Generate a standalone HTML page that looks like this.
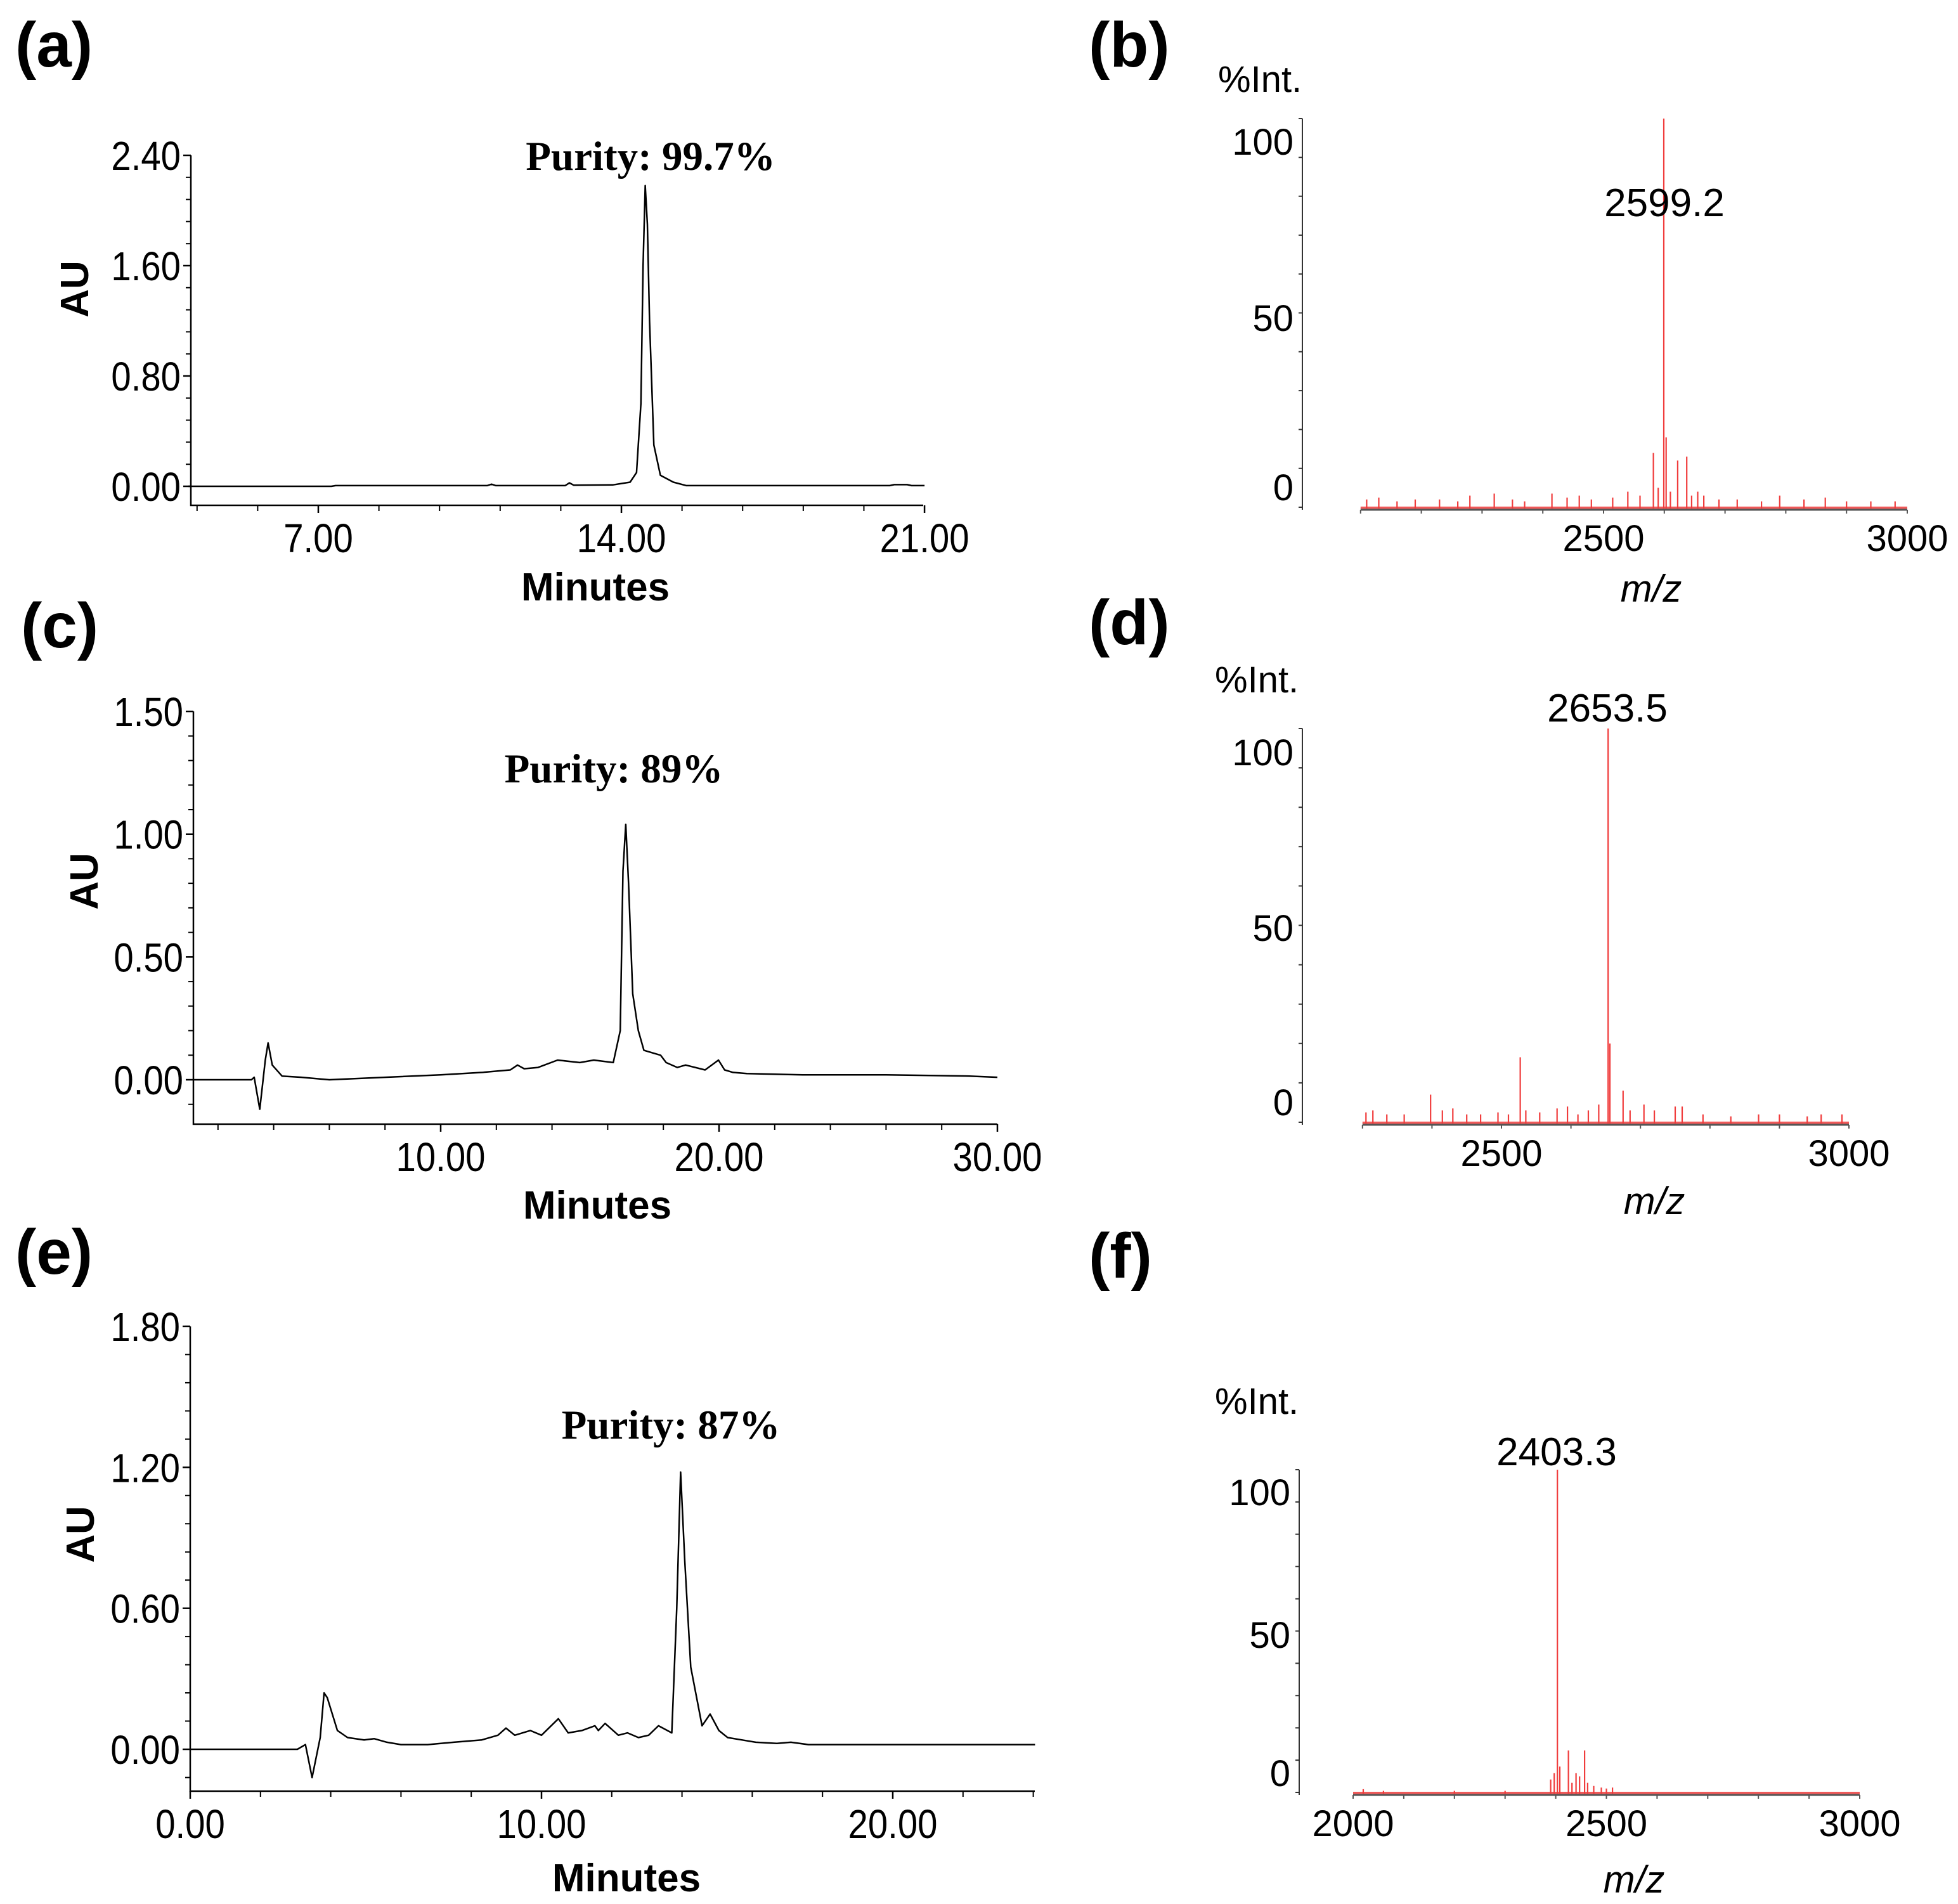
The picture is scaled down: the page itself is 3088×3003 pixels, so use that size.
<!DOCTYPE html>
<html><head><meta charset="utf-8"><style>
html,body{margin:0;padding:0;background:#fff;}
svg{display:block;}
text{font-family:"Liberation Sans",sans-serif;fill:#000;}
.serif{font-family:"Liberation Serif",serif;font-weight:bold;}
</style></head><body>
<svg id="fig" width="3088" height="3003" viewBox="0 0 3088 3003" xmlns="http://www.w3.org/2000/svg"></svg>
<script>
// ---------- Chromatogram data (minutes, AU) ----------
const chromA_t = [4.0,7.3,7.4,10.9,11.0,11.1,12.7,12.8,12.9,13.8,14.2,14.35,14.45,14.5,14.55,14.6,14.65,14.75,14.9,15.2,15.5,20.2,20.3,20.6,20.7,21.0];
const chromA_v = [0,0,0.005,0.005,0.015,0.005,0.005,0.025,0.008,0.01,0.03,0.1,0.6,1.6,2.18,1.9,1.2,0.3,0.08,0.03,0.005,0.005,0.012,0.012,0.005,0.005];
const chromC_t = [1.1,3.2,3.3,3.5,3.7,3.8,3.95,4.3,5.0,6.0,8.0,10.0,11.5,12.5,12.76,13.0,13.5,14.2,15.0,15.5,16.2,16.45,16.55,16.65,16.75,16.9,17.1,17.3,17.6,17.9,18.1,18.5,18.8,19.5,19.98,20.2,20.5,21.0,23.0,26.0,29.0,30.0];
const chromC_v = [0,0,0.01,-0.12,0.08,0.15,0.06,0.015,0.01,0.0,0.01,0.02,0.03,0.04,0.06,0.045,0.05,0.08,0.07,0.08,0.07,0.2,0.85,1.04,0.8,0.35,0.2,0.12,0.11,0.1,0.07,0.05,0.06,0.04,0.08,0.04,0.03,0.025,0.02,0.02,0.015,0.01];
const chromE_t = [0.0,3.05,3.28,3.47,3.7,3.81,3.9,4.19,4.48,4.95,5.24,5.6,6.0,6.76,7.5,8.3,8.76,8.99,9.24,9.68,10.0,10.48,10.76,11.15,11.52,11.62,11.81,12.19,12.45,12.76,13.05,13.33,13.71,13.85,13.96,14.08,14.25,14.57,14.8,15.05,15.3,15.7,16.1,16.7,17.1,17.6,19.3,21.2,24.05];
const chromE_v = [0,0,0.02,-0.12,0.05,0.24,0.22,0.08,0.05,0.04,0.045,0.03,0.02,0.02,0.03,0.04,0.06,0.09,0.06,0.08,0.06,0.13,0.07,0.08,0.1,0.08,0.11,0.06,0.07,0.05,0.06,0.1,0.07,0.6,1.18,0.8,0.35,0.1,0.15,0.08,0.05,0.04,0.03,0.025,0.03,0.02,0.02,0.02,0.02];
// ---------- Mass spectra data (m/z, %Int) ----------
const msB_mz = [2110,2130,2160,2190,2230,2260,2280,2320,2350,2370,2415,2440,2460,2480,2515,2540,2560,2582,2590,2599.2,2603,2610,2622,2637,2645,2655,2665,2690,2720,2760,2790,2830,2865,2900,2940,2980];
const msB_int = [2,2.5,1.5,2,2,1.5,3,3.5,2,1.5,3.5,2.5,3,2,2.5,4,3,14,5,100,18,4,12,13,3,4,3,2,2,1.5,3,2,2.5,1.5,1.5,1.5];
const msD_mz = [2305,2315,2335,2360,2398,2415,2430,2450,2470,2495,2510,2527,2535,2555,2580,2595,2610,2625,2640,2653.5,2656,2675,2685,2705,2720,2750,2760,2790,2830,2870,2900,2940,2960,2990];
const msD_int = [2.5,3,2,2,7,3,3.5,2,2,2.5,2,16.5,3,2.5,3.5,4,2,3,4.5,100,20,8,3,4.5,3,4,4,2,1.5,2,2,1.5,2,2];
const msF_mz = [2020,2060,2200,2300,2390,2397,2403.3,2408,2425,2432,2440,2447,2457,2463,2475,2490,2500,2512];
const msF_int = [1,0.5,0.5,0.5,4,6,100,8,13,3,6,5,13,3,2,1.5,1.2,1.5];
// ---------- Tick labels ----------
const ticksA_y = [0,0.8,1.6,2.4], ticksA_yl = ["0.00","0.80","1.60","2.40"];
const ticksA_x = [7,14,21], ticksA_xl = ["7.00","14.00","21.00"];
const ticksC_y = [0,0.5,1.0,1.5], ticksC_yl = ["0.00","0.50","1.00","1.50"];
const ticksC_x = [10,20,30], ticksC_xl = ["10.00","20.00","30.00"];
const ticksE_y = [0,0.6,1.2,1.8], ticksE_yl = ["0.00","0.60","1.20","1.80"];
const ticksE_x = [0,10,20], ticksE_xl = ["0.00","10.00","20.00"];
const ticksB_x = [2500,3000], ticksD_x = [2500,3000], ticksF_x = [2000,2500,3000];
const ticksMS_yl = ["100","50","0"];

const NS = "http://www.w3.org/2000/svg";
const svg = document.getElementById('fig');
function mk(tag, attrs, parent){
  const e = document.createElementNS(NS, tag);
  for (const k in attrs) e.setAttribute(k, attrs[k]);
  (parent||svg).appendChild(e);
  return e;
}
function txt(s, x, y, size, opts, parent){
  opts = opts||{};
  const t = mk('text', {x:x, y:y, 'font-size':size}, parent);
  if (opts.anchor) t.setAttribute('text-anchor', opts.anchor);
  if (opts.weight) t.setAttribute('font-weight', opts.weight);
  if (opts.style) t.setAttribute('font-style', opts.style);
  if (opts.cls) t.setAttribute('class', opts.cls);
  if (opts.transform) t.setAttribute('transform', opts.transform);
  t.textContent = s;
  return t;
}

function chrom(cfg){
  const g = mk('g', {});
  
  
  const X = t => cfg.x0 + (t - cfg.t0) * cfg.kx;
  const Y = v => cfg.y0 - v * cfg.ky;
  const ax = mk('path', {d:`M${cfg.axL},${cfg.axT} V${cfg.axB} H${cfg.axR}`, fill:'none', stroke:'#000', 'stroke-width':2.5}, g);
  
  
  let d = '';
  for (let v = cfg.yMinorStart; v <= cfg.yMax + 1e-6; v += cfg.yMinor) { const y = Y(v); if (y <= cfg.axB - 2) d += `M${cfg.axL},${y} h-8`; }
  for (let t = cfg.xMinorStart; t <= cfg.xMax + 1e-6; t += cfg.xMinor) { const x = X(t); if (x >= cfg.axL) d += `M${x},${cfg.axB} v9`; }
  mk('path', {d:d, stroke:'#000', 'stroke-width':2}, g);
  cfg.ty.forEach((v, i) => {
    mk('path', {d:`M${cfg.axL},${Y(v)} h-12`, stroke:'#000', 'stroke-width':2.5}, g);
    const l = txt(cfg.tyl[i], 0, 0, 64, {anchor:'end', transform:`translate(${cfg.axL - 16},${Y(v) + 23}) scale(0.88,1)`}, g);
    
    
  });
  cfg.tx.forEach((t, i) => {
    mk('path', {d:`M${X(t)},${cfg.axB} v12`, stroke:'#000', 'stroke-width':2.5}, g);
    const l = txt(cfg.txl[i], 0, 0, 64, {anchor:'middle', transform:`translate(${X(t)},${cfg.axB + 74}) scale(0.88,1)`}, g);
    
    
  });
  const pts = cfg.t.map((t, i) => `${X(t).toFixed(1)},${Y(cfg.v[i]).toFixed(1)}`).join(' ');
  const line = mk('polyline', {points:pts, fill:'none', stroke:'#000', 'stroke-width':2.5, 'stroke-linejoin':'round'}, g);
  
  
  const xt = txt('Minutes', cfg.mx, cfg.my, 62, {anchor:'middle', weight:'bold'}, g);
  
  
  const yt = txt('AU', 0, 0, 62, {anchor:'middle', weight:'bold', transform:`translate(${cfg.aux + 22},${cfg.auy}) rotate(-90)`}, g);
  
  
  const pu = txt(cfg.purity, cfg.px, cfg.py, 65, {anchor:'middle', cls:'serif'}, g);
  
  
}

function ms(cfg){
  const g = mk('g', {});
  
  
  const X = m => cfg.x0 + (m - cfg.m0) * cfg.kx;
  const Y = v => cfg.y0 - v * cfg.ky;
  const ya = mk('path', {d:`M${cfg.axL},${Y(100)} V${cfg.y0 + 4}`, stroke:'#333', 'stroke-width':2}, g);
  
  
  let d = '';
  for (let v = 0; v <= 100; v += 10) d += `M${cfg.axL},${Y(v)} h-6`;
  mk('path', {d:d, stroke:'#333', 'stroke-width':2}, g);
  cfg.ylY.forEach((y, i) => {
    const l = txt(ticksMS_yl[i], cfg.ylR, y + 21, 58, {anchor:'end'}, g);
    
    
  });
  mk('path', {d:`M${X(cfg.mMin)},${cfg.y0 + 1} H${X(cfg.mMax)}`, stroke:'#f05a5a', 'stroke-width':4}, g);
  let sp = '';
  cfg.mz.forEach((m, i) => { sp += `M${X(m).toFixed(1)},${cfg.y0 + 2} V${Y(cfg.it[i]).toFixed(1)}`; });
  const sticks = mk('path', {d:sp, stroke:'#f03c3c', 'stroke-width':2.2, fill:'none'}, g);
  
  
  const xa = mk('path', {d:`M${X(cfg.mMin)},${cfg.y0 + 4} H${X(cfg.mMax)}`, stroke:'#555', 'stroke-width':3}, g);
  
  
  let dx = '';
  for (let m = cfg.mMin; m <= cfg.mMax + 1e-6; m += 100) dx += `M${X(m)},${cfg.y0 + 4} v6`;
  mk('path', {d:dx, stroke:'#555', 'stroke-width':2}, g);
  cfg.tx.forEach(m => {
    const l = txt(String(m), X(m), cfg.y0 + 69, 58, {anchor:'middle'}, g);
    
    
  });
  const it = txt('%Int.', cfg.intX, cfg.intY, 58, {}, g);
  
  
  const mzT = txt('m/z', cfg.mzX, cfg.mzY, 60, {anchor:'middle', style:'italic'}, g);
  
  
  const pk = txt(cfg.peakLabel, cfg.pkX, cfg.pkY, 62, {anchor:'middle'}, g);
  
  
}

chrom({name:'chromatogram-a', t:chromA_t, v:chromA_v, t0:7, x0:502, kx:68.29, y0:767, ky:217.5,
  axL:301, axR:1456, axT:245, axB:797, yMax:2.4, yMinor:0.16, yMinorStart:0, xMinor:1.4, xMinorStart:4.2, xMax:21,
  ty:ticksA_y, tyl:ticksA_yl, tx:ticksA_x, txl:ticksA_xl, mx:939, my:947, aux:117, auy:456, purity:'Purity: 99.7%', px:1026, py:268});
chrom({name:'chromatogram-c', t:chromC_t, v:chromC_v, t0:10, x0:695, kx:43.9, y0:1703, ky:387.3,
  axL:305, axR:1573, axT:1122, axB:1773, yMax:1.5, yMinor:0.1, yMinorStart:-0.1, xMinor:2, xMinorStart:2, xMax:30,
  ty:ticksC_y, tyl:ticksC_yl, tx:ticksC_x, txl:ticksC_xl, mx:942, my:1922, aux:132, auy:1390, purity:'Purity: 89%', px:968, py:1234});
chrom({name:'chromatogram-e', t:chromE_t, v:chromE_v, t0:0, x0:300, kx:55.4, y0:2759, ky:370.6,
  axL:300, axR:1632, axT:2092, axB:2825, yMax:1.8, yMinor:0.12, yMinorStart:-0.12, xMinor:2, xMinorStart:0, xMax:24,
  ty:ticksE_y, tyl:ticksE_yl, tx:ticksE_x, txl:ticksE_xl, mx:988, my:2983, aux:126, auy:2420, purity:'Purity: 87%', px:1058, py:2269});

ms({name:'mass-spectrum-b', mz:msB_mz, it:msB_int, m0:2500, x0:2529, kx:0.958, y0:800, ky:6.13, mMin:2100, mMax:3000,
  axL:2054, ylR:2040, ylY:[223,501,768], tx:ticksB_x, intX:1921, intY:145, mzX:2604, mzY:949, peakLabel:'2599.2', pkX:2625, pkY:341});
ms({name:'mass-spectrum-d', mz:msD_mz, it:msD_int, m0:2500, x0:2368, kx:1.096, y0:1770, ky:6.21, mMin:2300, mMax:3000,
  axL:2054, ylR:2040, ylY:[1186,1463,1738], tx:ticksD_x, intX:1916, intY:1092, mzX:2609, mzY:1915, peakLabel:'2653.5', pkX:2535, pkY:1138});
ms({name:'mass-spectrum-f', mz:msF_mz, it:msF_int, m0:2000, x0:2134, kx:0.799, y0:2827, ky:5.09, mMin:2000, mMax:3000,
  axL:2049, ylR:2035, ylY:[2353,2578,2796], tx:ticksF_x, intX:1916, intY:2230, mzX:2577, mzY:2985, peakLabel:'2403.3', pkX:2455, pkY:2311});

const letters = [['(a)',24,105],['(b)',1717,105],['(c)',33,1021],['(d)',1717,1016],['(e)',24,2009],['(f)',1717,2015]];
letters.forEach(L => {
  const t = txt(L[0], L[1], L[2], 100, {weight:'bold'});
  
  
});
</script>
</body></html>
